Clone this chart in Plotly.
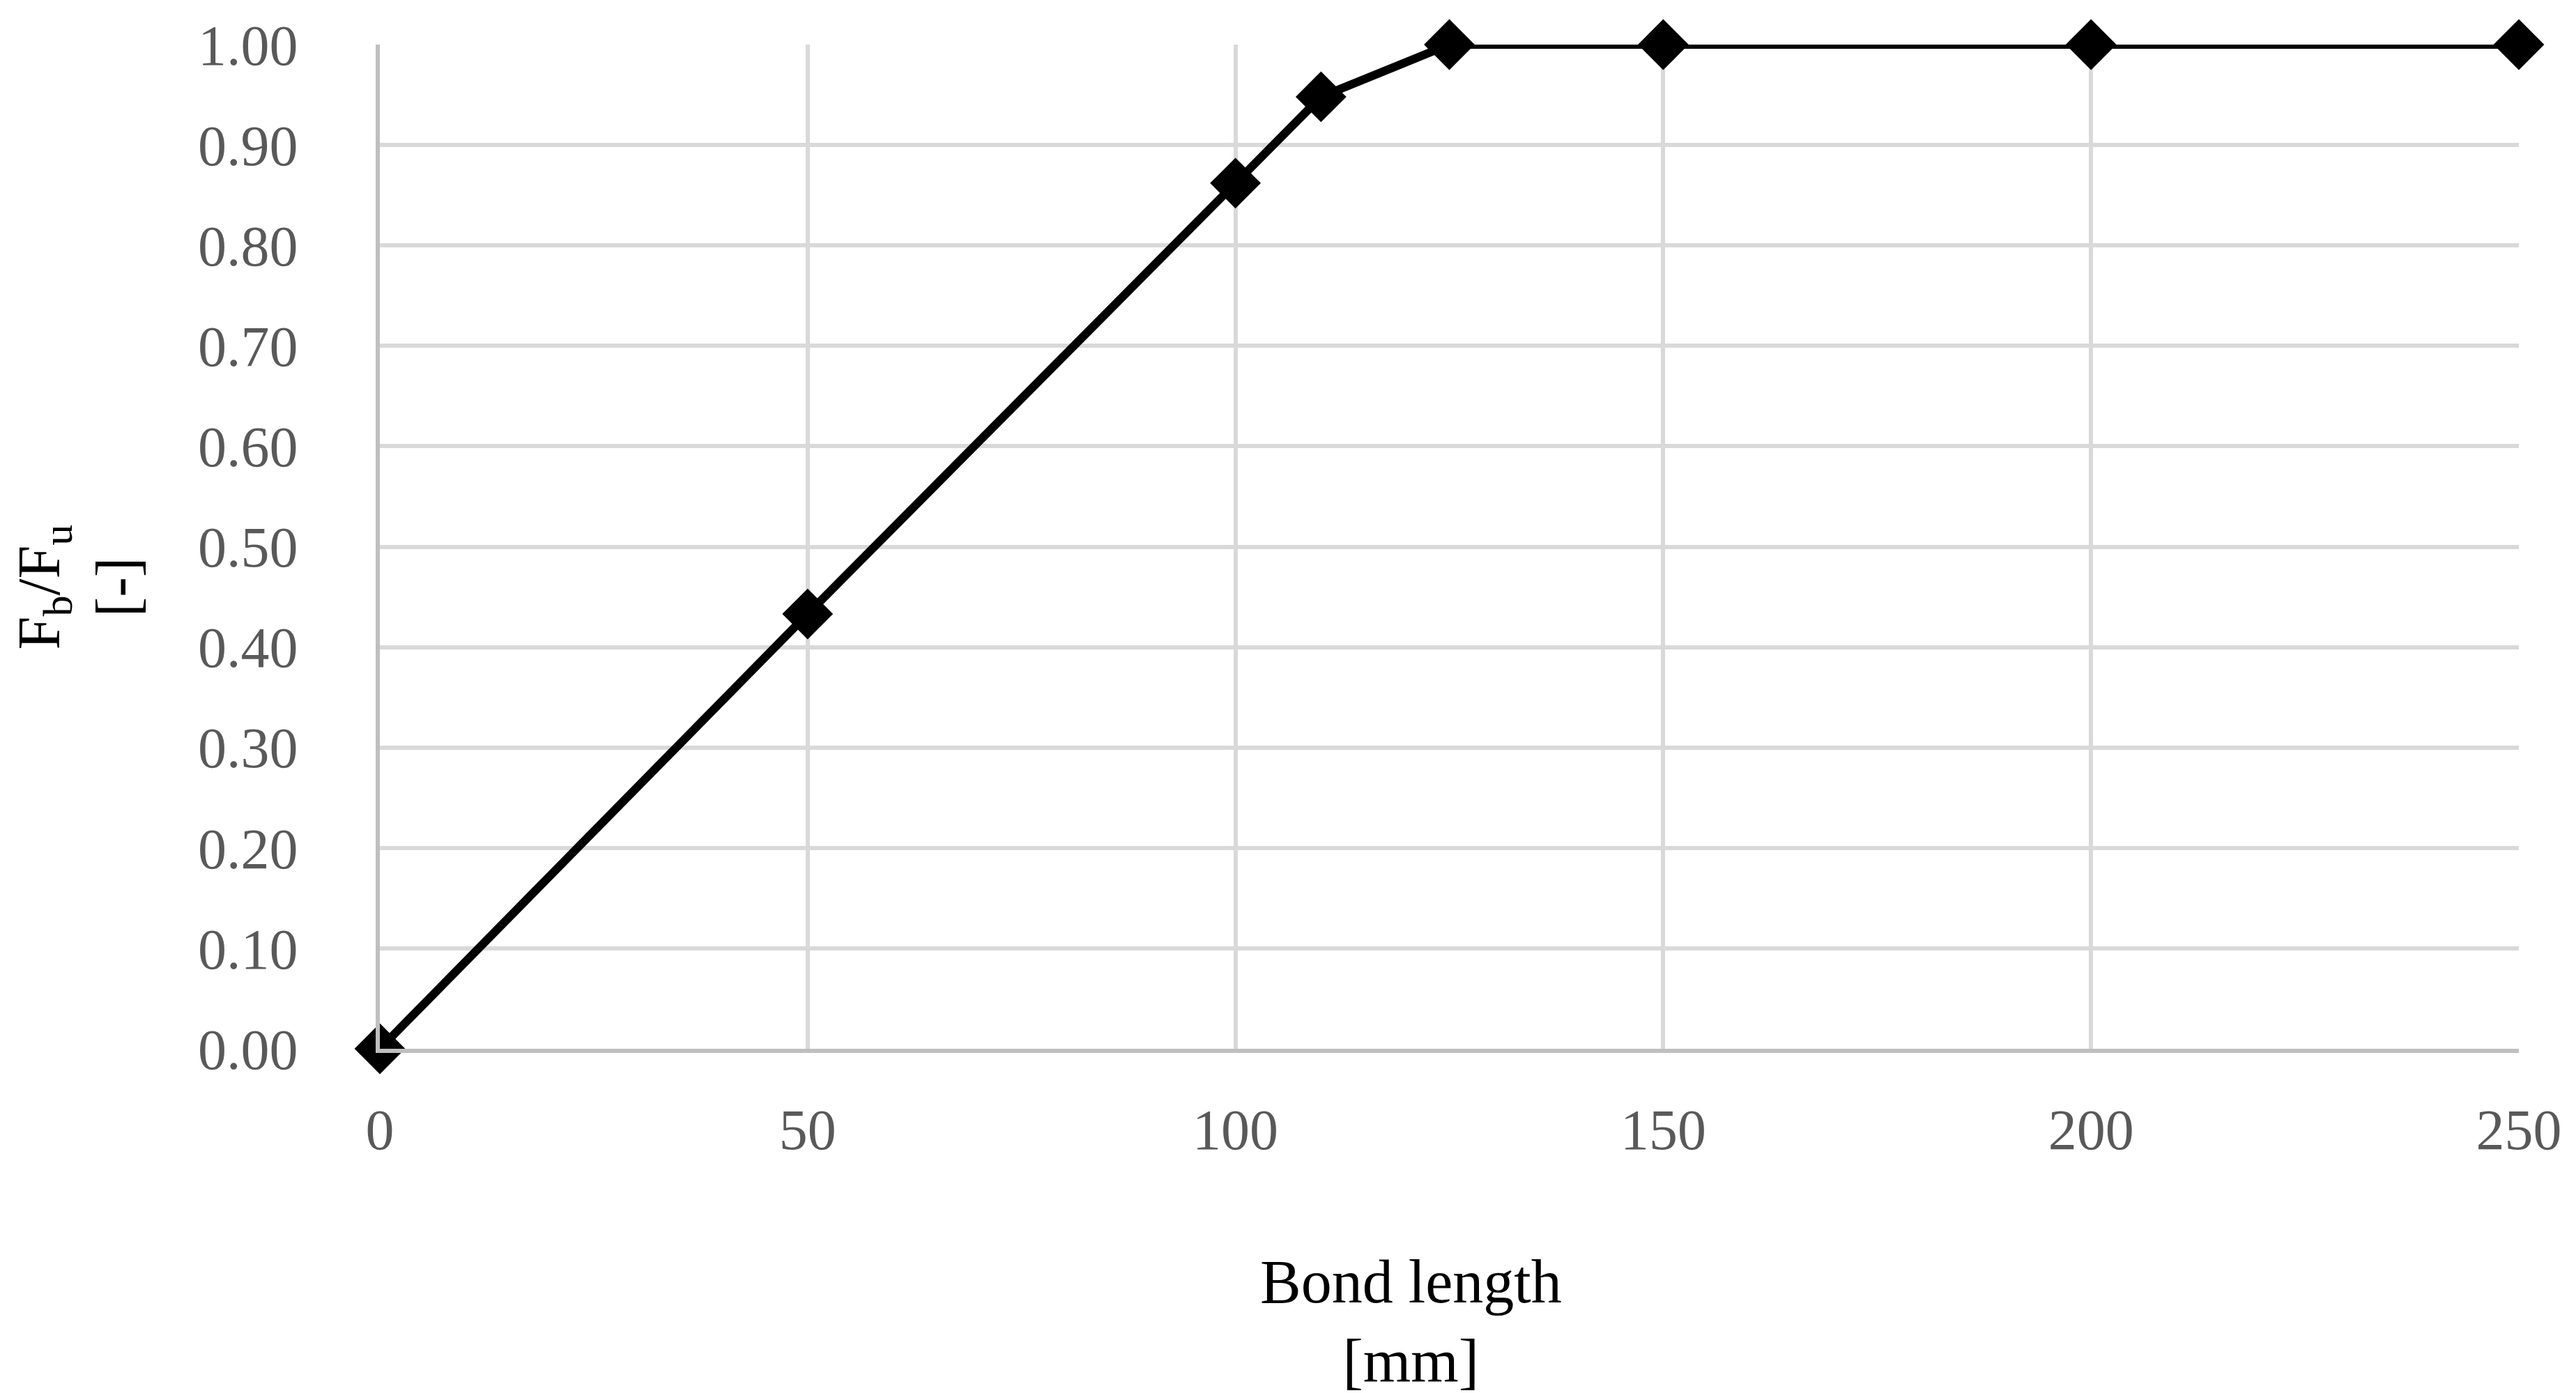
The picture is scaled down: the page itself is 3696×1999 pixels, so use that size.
import plotly.graph_objects as go

bond_length = [0, 50, 100, 110, 125, 150, 200, 250]
force_ratio = [0.0, 0.433, 0.862, 0.948, 1.0, 1.0, 1.0, 1.0]

x_ticks = [0, 50, 100, 150, 200, 250]
y_ticks = [0.0, 0.1, 0.2, 0.3, 0.4, 0.5, 0.6, 0.7, 0.8, 0.9, 1.0]

FONT = "Liberation Serif"

fig = go.Figure()
fig.add_trace(go.Scatter(
    x=bond_length, y=force_ratio, mode="lines+markers",
    line=dict(color="black", width=12),
    marker=dict(symbol="diamond", size=56, color="black"),
    cliponaxis=False, showlegend=False,
))

fig.update_layout(
    width=3696, height=1999,
    margin=dict(l=537, r=90, t=48, b=502),
    paper_bgcolor="white", plot_bgcolor="white",
    font=dict(family=FONT, size=82, color="black"),
)
fig.update_xaxes(
    range=[0, 250], tickvals=x_ticks, ticktext=[str(v) for v in x_ticks],
    showgrid=True, gridcolor="#d9d9d9", gridwidth=6,
    showline=True, linecolor="#bfbfbf", linewidth=6,
    zeroline=False, ticks="", ticklabelstandoff=40,
    tickfont=dict(family=FONT, size=82, color="#595959"),
)
fig.update_yaxes(
    range=[0, 1], tickvals=y_ticks, ticktext=[f"{v:.2f}" for v in y_ticks],
    showgrid=True, gridcolor="#d9d9d9", gridwidth=6,
    showline=True, linecolor="#bfbfbf", linewidth=6,
    zeroline=False, ticks="", ticklabelstandoff=95,
    tickfont=dict(family=FONT, size=82, color="#595959"),
)

fig.add_annotation(
    text="Bond length<br>[mm]", xref="paper", yref="paper",
    x=0.482, y=-0.272, xanchor="center", yanchor="middle",
    showarrow=False, font=dict(family=FONT, size=88, color="black"),
)
fig.add_annotation(
    text="F<sub>b</sub>/F<sub>u</sub><br>[-]", xref="paper", yref="paper",
    x=-0.141, y=0.46, xanchor="center", yanchor="middle", textangle=-90,
    showarrow=False, font=dict(family=FONT, size=86, color="black"),
)

fig.write_html("out.html")
